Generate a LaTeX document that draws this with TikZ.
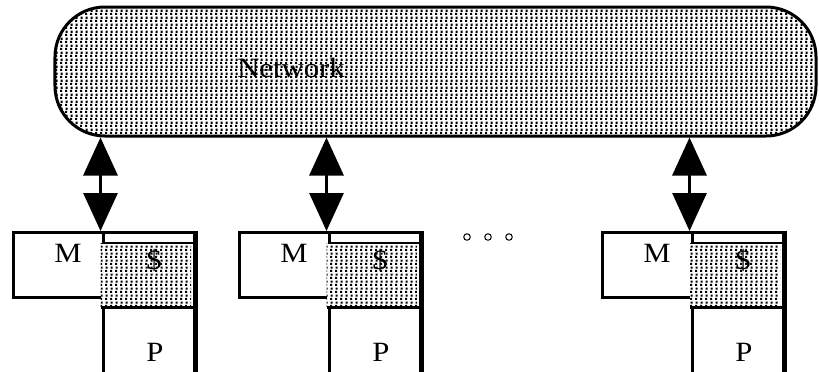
\documentclass[tikz,border=0pt]{standalone}
\usepackage{fontspec}
\setmainfont{Liberation Serif}
\newfontfamily\lblfont[FakeStretch=1.1]{Liberation Serif}
\usetikzlibrary{arrows.meta,patterns}

% coarse stipple used for the network and the caches
\pgfdeclarepatternformonly{stipple}{\pgfpointorigin}{\pgfqpoint{5bp}{7.2bp}}{\pgfqpoint{5bp}{7.2bp}}{%
  \pgfpathrectangle{\pgfpointorigin}{\pgfqpoint{2.5bp}{2.3bp}}%
  \pgfpathrectangle{\pgfqpoint{0.6bp}{3.6bp}}{\pgfqpoint{2.5bp}{2.3bp}}%
  \pgfusepath{fill}}

\tikzset{
  heavy/.style={line width=3bp},
  cloud/.style={heavy, draw, rounded corners=50bp, preaction={fill=white}, pattern=stipple,
    minimum width=761bp, minimum height=129bp, inner sep=0pt},
  membox/.style={heavy, draw, minimum width=90bp, minimum height=65bp, anchor=north west, inner sep=0pt},
  colbox/.style={heavy, draw, minimum width=91bp, minimum height=145bp, anchor=north west, inner sep=0pt},
  cachebox/.style={fill=white, minimum width=90.5bp, minimum height=64bp, anchor=north west, inner sep=0pt,
    postaction={pattern=stipple}},
  lbl/.style={inner sep=0pt, font=\lblfont\fontsize{28}{28}\selectfont},
  link/.style={heavy, {Triangle[length=38bp,width=34bp]}-{Triangle[length=38bp,width=34bp]}},
  etc/.style={circle, draw, line width=1bp, minimum size=6.5bp, inner sep=0pt},
}

\begin{document}
\begin{tikzpicture}[x=1bp,y=-1bp]
\useasboundingbox (0,0) rectangle (819,371);

% interconnection network
\node[cloud] (net) at (435.5,71.5) {};
\node[lbl] (netlbl) at (291,68) {Network};

% processing nodes: memory, cache and processor
\foreach \L/\i in {12/1,238/2,601/3}{
  \node[membox] (M\i) at (\L,231) {};
  \node[colbox] (C\i) at (\L+90,231) {};
  \node[cachebox] (S\i) at (\L+88.5,243) {};
  \draw[heavy] (S\i.south west) -- (S\i.south east -| C\i.east);
  \draw[line width=2bp] (S\i.north west) ++(1.5,0) -- (S\i.north east -| C\i.east);
  \draw[heavy] (C\i.north east) -- (C\i.south east);
  \node[lbl] (Ml\i) at (\L+56,253) {M};
  \node[lbl] (Sl\i) at (\L+142,260) {\$};
  \node[lbl] (Pl\i) at (\L+143,352) {P};
  \coordinate (A\i) at (\L+88.5,231);
  \draw[link] (net.south -| A\i) -- (A\i);
}

% further nodes omitted
\node[etc] (e1) at (467,237) {};
\node[etc] (e2) at (488,237) {};
\node[etc] (e3) at (509,237) {};
\end{tikzpicture}
\end{document}
